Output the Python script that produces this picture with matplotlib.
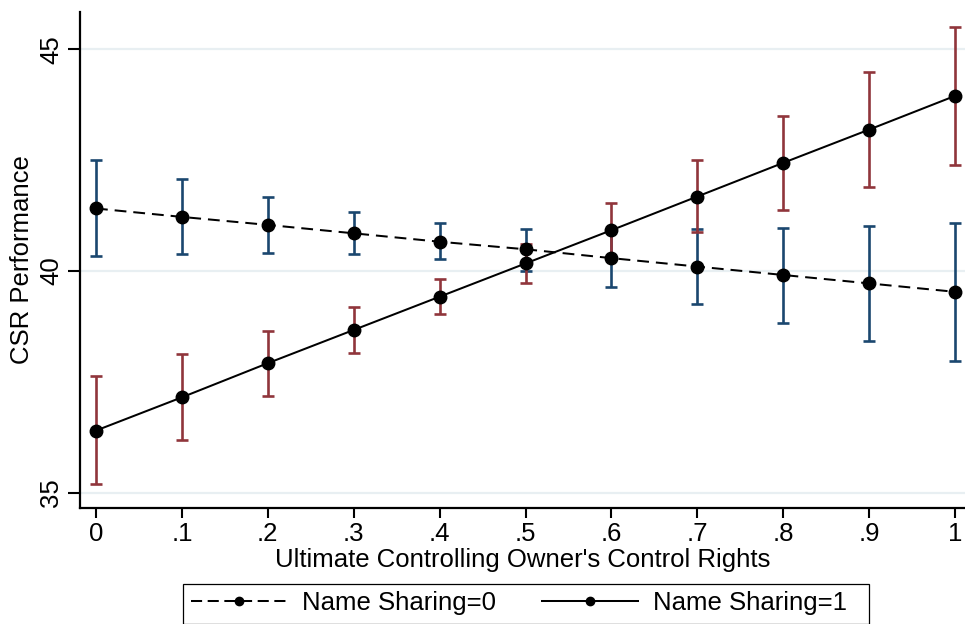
import matplotlib
matplotlib.use("Agg")
import matplotlib.pyplot as plt
from matplotlib.patches import Rectangle
from matplotlib.lines import Line2D

plt.rcParams["font.family"] = ["Liberation Sans", "DejaVu Sans"]
plt.rcParams["lines.scale_dashes"] = False

# control rights grid
x = [0, .1, .2, .3, .4, .5, .6, .7, .8, .9, 1]
x_labels = ["0", ".1", ".2", ".3", ".4", ".5", ".6", ".7", ".8", ".9", "1"]

# Name Sharing = 0
ns0_mean = [41.41, 41.22, 41.04, 40.85, 40.66, 40.49, 40.29, 40.10, 39.91, 39.72, 39.53]
ns0_lo = [40.34, 40.38, 40.40, 40.38, 40.26, 40.00, 39.65, 39.25, 38.83, 38.41, 37.98]
ns0_hi = [42.50, 42.08, 41.68, 41.33, 41.08, 40.95, 40.93, 40.94, 40.98, 41.02, 41.08]

# Name Sharing = 1
ns1_mean = [36.40, 37.15, 37.92, 38.67, 39.42, 40.17, 40.92, 41.68, 42.44, 43.19, 43.95]
ns1_lo = [35.19, 36.19, 37.17, 38.15, 39.02, 39.74, 40.30, 40.87, 41.38, 41.89, 42.38]
ns1_hi = [37.62, 38.13, 38.65, 39.19, 39.83, 40.60, 41.54, 42.50, 43.49, 44.50, 45.51]

y_ticks = [35, 40, 45]

NAVY = "#1a476f"
MAROON = "#90353b"
FS = 18.5

W, H = 965, 624
fig = plt.figure(figsize=(W / 100, H / 100), dpi=100)
ax = fig.add_axes([80 / W, 116.3 / H, 885 / W, 495.4 / H])

for yt in y_ticks:
    ax.axhline(yt, color="#e8eff2", lw=1.6, zorder=0)

def bars(mean, lo, hi, color):
    err = [[m - l for m, l in zip(mean, lo)], [h - m for m, h in zip(mean, hi)]]
    ax.errorbar(x, mean, yerr=err, fmt="none", ecolor=color, elinewidth=1.9,
                capsize=4.4, capthick=1.9, zorder=2)

bars(ns0_mean, ns0_lo, ns0_hi, NAVY)
bars(ns1_mean, ns1_lo, ns1_hi, MAROON)

ax.plot(x, ns0_mean, color="black", lw=1.45, dashes=(8.5, 5), marker="o",
        ms=9, zorder=3)
ax.plot(x, ns1_mean, color="black", lw=1.45, marker="o", ms=9, zorder=3)

ax.set_xlim(-0.0186, 1.0116)
ax.set_ylim(34.66, 45.836)
ax.set_xticks(x)
ax.set_xticklabels(x_labels)
ax.set_yticks(y_ticks)
ax.set_yticklabels([str(v) for v in y_ticks], rotation=90, va="center")

for s in ["top", "right"]:
    ax.spines[s].set_visible(False)
for s in ["left", "bottom"]:
    ax.spines[s].set_linewidth(1.6)

ax.tick_params(axis="x", length=7, width=1.5, pad=3.5, labelsize=FS)
ax.tick_params(axis="y", length=8.5, width=1.5, pad=3.5, labelsize=FS)

ax.set_xlabel("Ultimate Controlling Owner's Control Rights", fontsize=FS, labelpad=1)
ax.set_ylabel("CSR Performance", fontsize=FS)
ax.yaxis.set_label_coords((34 - 80) / 885, 0.5)

# legend box, runs off the bottom edge like the original
fig.patches.append(Rectangle((183 / W, 0), (869 - 183) / W, 1 - 584 / H,
                             transform=fig.transFigure, fill=False,
                             edgecolor="black", lw=0.9))
handles = [
    Line2D([], [], color="black", lw=1.45, dashes=(8, 4), marker="o", ms=6),
    Line2D([], [], color="black", lw=1.45, marker="o", ms=6),
]
fig.legend(handles, ["Name Sharing=0", "Name Sharing=1"], loc="center left",
           bbox_to_anchor=(191 / W, 1 - 603 / H), ncol=2, frameon=False,
           fontsize=FS, handlelength=3.74, handletextpad=0.58,
           columnspacing=1.8, borderpad=0, borderaxespad=0)

fig.savefig("out.png", dpi=100)
